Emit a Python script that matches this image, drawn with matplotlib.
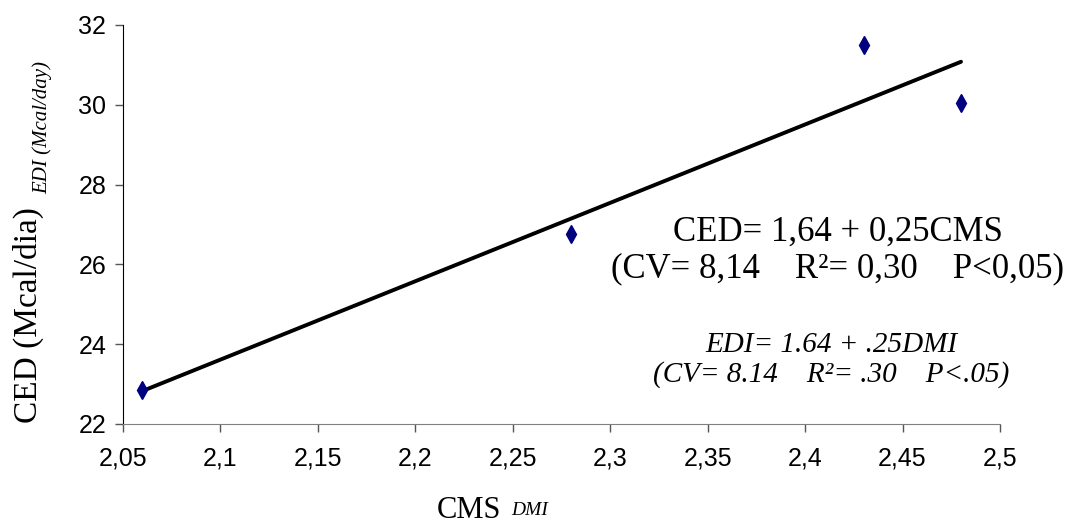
import numpy as np
import matplotlib
matplotlib.use("Agg")
from matplotlib import pyplot as plt

# dados
cms = [2.06, 2.28, 2.43, 2.48]
ced = [22.85, 26.75, 31.5, 30.05]
x_ticks = [2.05, 2.1, 2.15, 2.2, 2.25, 2.3, 2.35, 2.4, 2.45, 2.5]
x_tick_labels = ["2,05", "2,1", "2,15", "2,2", "2,25", "2,3", "2,35", "2,4", "2,45", "2,5"]
y_ticks = [22, 24, 26, 28, 30, 32]

serif = ["Liberation Serif", "DejaVu Serif"]
sans = ["Liberation Sans Narrow", "Liberation Sans", "DejaVu Sans"]

fig = plt.figure(figsize=(10.77, 5.28), dpi=100)
ax = fig.add_axes([0.1142, 0.197, 0.8143, 0.7557])

# linha de tendência (mínimos quadrados)
coef = np.polyfit(cms, ced, 1)
xl = np.array([min(cms), max(cms)])
ax.plot(xl, np.polyval(coef, xl), color="black", lw=2.8, solid_capstyle="round", zorder=2)
ax.plot(cms, ced, linestyle="none", marker="d", markersize=9,
        color="#000080", markeredgecolor="#000080", zorder=3)

ax.set_xlim(2.05, 2.5)
ax.set_ylim(22, 32)
ax.set_xticks(x_ticks)
ax.set_xticklabels(x_tick_labels)
ax.set_yticks(y_ticks)
for lab in ax.get_xticklabels() + ax.get_yticklabels():
    lab.set_family(sans)
    lab.set_fontsize(18)

ax.spines["top"].set_visible(False)
ax.spines["right"].set_visible(False)
ax.spines["left"].set_color("black")
ax.spines["bottom"].set_color("#808080")
ax.tick_params(axis="both", direction="out", length=6, width=1, colors="#555555",
               labelcolor="black")
ax.tick_params(axis="x", pad=10)
ax.tick_params(axis="y", pad=6)

# rótulos dos eixos
fig.text(0.026, 0.403, "CED (Mcal/dia)", rotation=90, ha="center", va="center",
         family=serif, fontsize=24)
fig.text(0.039, 0.758, "EDI (Mcal/day)", rotation=90, ha="center", va="center",
         family=serif, fontsize=15, style="italic")
fig.text(0.435, 0.034, "CMS", ha="center", va="center", family=serif, fontsize=22)
fig.text(0.492, 0.034, "DMI", ha="center", va="center", family=serif, fontsize=14,
         style="italic")

# equações
fig.text(0.778, 0.525, "CED= 1,64 + 0,25CMS\n(CV= 8,14    R²= 0,30    P<0,05)",
         ha="center", va="center", family=serif, fontsize=25, linespacing=1.15)
fig.text(0.772, 0.318, "EDI= 1.64 + .25DMI\n(CV= 8.14    R²= .30    P<.05)",
         ha="center", va="center", family=serif, fontsize=21, style="italic",
         linespacing=1.15)

fig.savefig("out.png", dpi=100)
